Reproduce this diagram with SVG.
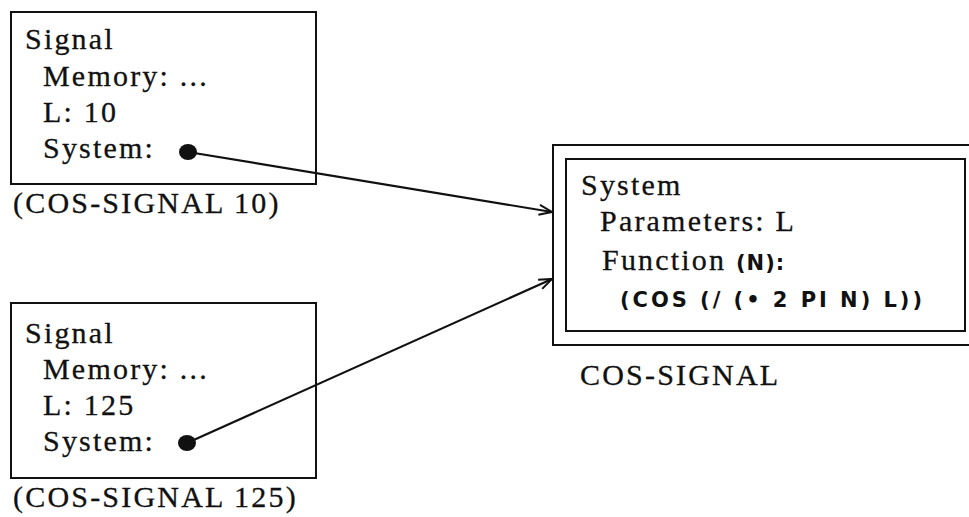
<svg xmlns="http://www.w3.org/2000/svg" width="969" height="517" viewBox="0 0 969 517">
<style>
.box{fill:none;stroke:#111;stroke-width:2}
.t{font-family:"Liberation Serif","Times New Roman",serif;font-size:30px;letter-spacing:2.2px;fill:#111;stroke:#111;stroke-width:0.3}
.code{font-family:"DejaVu Sans","Liberation Sans",sans-serif;font-size:21px;font-weight:bold;fill:#111;stroke:none}
.conn{fill:none;stroke:#111;stroke-width:2.2}
</style>
<defs>
<marker id="arr" markerWidth="16" markerHeight="12" refX="14" refY="6" orient="auto" markerUnits="userSpaceOnUse">
<path d="M1,1 L14,6 L1,11" fill="none" stroke="#111" stroke-width="2"/>
</marker>
</defs>
<rect width="969" height="517" fill="#fff"/>
<g id="signal10">
<rect class="box" x="11" y="12" width="305" height="172"/>
<text class="t" x="25" y="49">Signal</text>
<text class="t" x="43" y="86">Memory: ...</text>
<text class="t" x="43" y="122">L: 10</text>
<text class="t" x="43" y="158">System:</text>
<text class="t" x="13" y="213">(COS-SIGNAL 10)</text>
</g>
<g id="signal125">
<rect class="box" x="11" y="303" width="305" height="175"/>
<text class="t" x="25" y="343">Signal</text>
<text class="t" x="43" y="379">Memory: ...</text>
<text class="t" x="43" y="415">L: 125</text>
<text class="t" x="43" y="451">System:</text>
<text class="t" x="13" y="507">(COS-SIGNAL 125)</text>
</g>
<g id="cos-signal">
<rect class="box" x="553" y="145" width="430" height="200"/>
<rect class="box" x="566" y="159" width="399" height="172"/>
<text class="t" x="581" y="195">System</text>
<text class="t" x="600" y="231">Parameters: L</text>
<text class="t" x="602" y="270">Function <tspan class="code" font-size="18" letter-spacing="1">(N):</tspan></text>
<text class="code" x="620" y="307" textLength="302" lengthAdjust="spacing">(COS (/ (• 2 PI N) L))</text>
<text class="t" x="580" y="385">COS-SIGNAL</text>
</g>
<g id="connectors">
<ellipse cx="188" cy="152" rx="9" ry="8" fill="#111"/>
<ellipse cx="187" cy="443" rx="9" ry="8" fill="#111"/>
<line class="conn" x1="188" y1="152" x2="552" y2="212" marker-end="url(#arr)"/>
<line class="conn" x1="187" y1="443" x2="552" y2="279" marker-end="url(#arr)"/>
</g>
</svg>
